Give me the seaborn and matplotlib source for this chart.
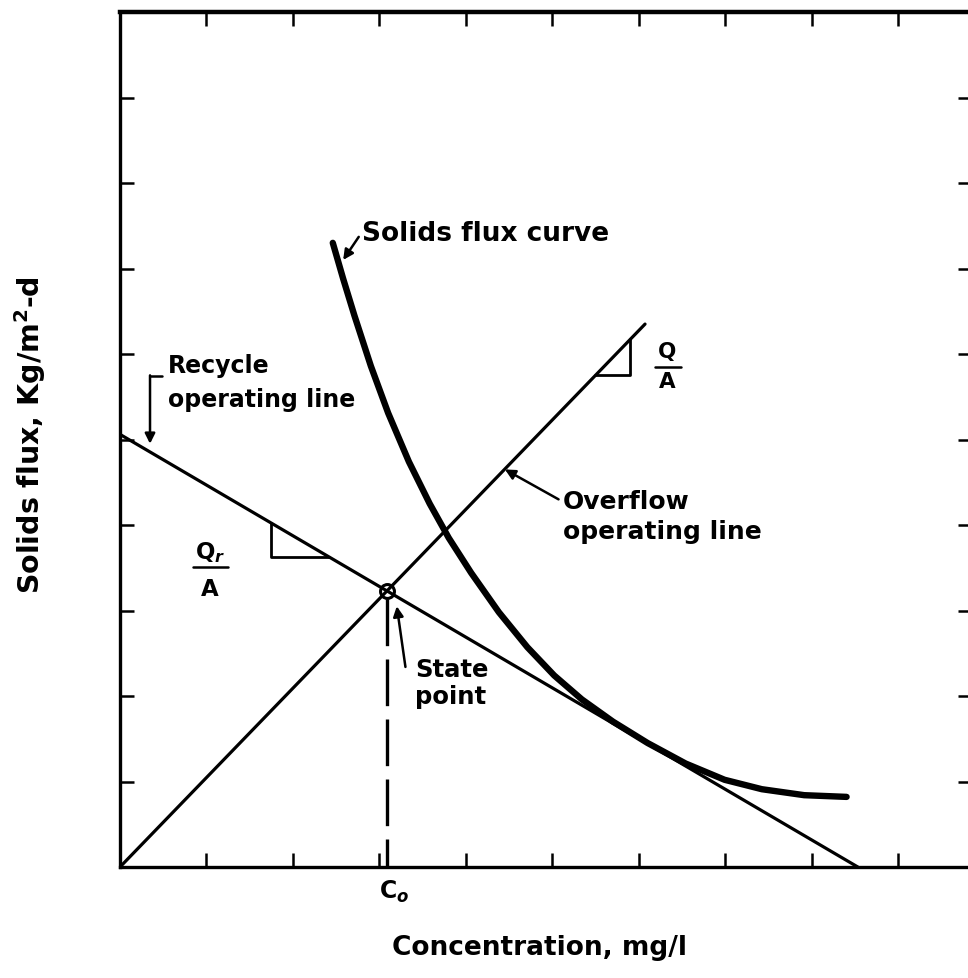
import numpy as np
import pandas as pd
import matplotlib
matplotlib.use("Agg")
import matplotlib.pyplot as plt
import seaborn as sns

# ---------------- data ----------------
flux_conc = [2.46, 2.58, 2.71, 2.90, 3.10, 3.34, 3.58, 3.80, 4.06, 4.38,
             4.71, 5.02, 5.34, 5.70, 6.10, 6.54, 6.99, 7.42, 7.91, 8.40]
flux_vals = [7.30, 6.88, 6.45, 5.86, 5.31, 4.74, 4.25, 3.85, 3.44, 2.98,
             2.57, 2.24, 1.96, 1.70, 1.45, 1.21, 1.02, 0.91, 0.84, 0.82]

overflow_conc = [0.0, 6.07]
overflow_vals = [0.0, 6.35]

recycle_conc = [0.0, 8.53]
recycle_vals = [5.06, 0.0]

tick_positions = [1, 2, 3, 4, 5, 6, 7, 8, 9]

# ---------------- style ----------------
sns.set_theme(style="ticks")
plt.rcParams["font.family"] = ["DejaVu Sans"]
plt.rcParams["font.weight"] = "bold"
plt.rcParams["text.color"] = "black"
plt.rcParams["axes.labelcolor"] = "black"

fig = plt.figure(figsize=(9.68, 9.79), dpi=100)
W, H = 968, 979
left_px, right_px, top_px, bottom_px = 120, 972, 13, 868
ax = fig.add_axes([left_px / W, (H - bottom_px) / H,
                   (right_px - left_px) / W, (bottom_px - top_px) / H])
ax.set_xlim(0, 9.85)
ax.set_ylim(0, 10)

lw_line = 2.3
df_over = pd.DataFrame({"x": overflow_conc, "y": overflow_vals})
df_rec = pd.DataFrame({"x": recycle_conc, "y": recycle_vals})
df_flux = pd.DataFrame({"x": flux_conc, "y": flux_vals})
sns.lineplot(data=df_over, x="x", y="y", ax=ax, color="black", lw=lw_line,
             sort=False, estimator=None)
sns.lineplot(data=df_rec, x="x", y="y", ax=ax, color="black", lw=lw_line,
             sort=False, estimator=None)
sns.lineplot(data=df_flux, x="x", y="y", ax=ax, color="black", lw=4.6,
             sort=False, estimator=None, solid_capstyle="round")
ax.lines[-1].set_solid_joinstyle("round")

# state point = intersection of the two operating lines
s_over = overflow_vals[1] / overflow_conc[1]
s_rec = (recycle_vals[1] - recycle_vals[0]) / (recycle_conc[1] - recycle_conc[0])
c0 = recycle_vals[0] / (s_over - s_rec)
y0 = s_over * c0

ax.plot([c0, c0], [y0 - 0.09, 0], color="black", lw=2.4, ls=(0, (14, 4)))
ax.plot([c0], [y0], marker="o", ms=10, mfc="none", mec="black", mew=2.2)

# slope triangles
xv = 1.746
ax.plot([xv, xv, (recycle_vals[0] - 3.63) / -s_rec],
        [recycle_vals[0] + s_rec * xv, 3.63, 3.63], color="black", lw=2.0)
xq = 5.90
ax.plot([5.75 / s_over, xq, xq], [5.75, 5.75, s_over * xq], color="black", lw=2.0)

bold = dict(fontweight="bold", color="black")
# fractions
ax.text(1.04, 3.69, r"Q$_r$", ha="center", va="center", fontsize=16.5, **bold)
ax.plot([0.84, 1.25], [3.51, 3.51], color="black", lw=1.8)
ax.text(1.04, 3.26, "A", ha="center", va="center", fontsize=16.5, **bold)

ax.text(6.33, 6.03, "Q", ha="center", va="center", fontsize=15.5, **bold)
ax.plot([6.18, 6.49], [5.85, 5.85], color="black", lw=1.8)
ax.text(6.33, 5.68, "A", ha="center", va="center", fontsize=15.5, **bold)

# annotations
arrow = dict(arrowstyle="-|>", color="black", lw=1.8, mutation_scale=15,
             shrinkA=0, shrinkB=0)
ax.text(2.80, 7.42, "Solids flux curve", ha="left", va="center", fontsize=19, **bold)
ax.annotate("", xy=(2.58, 7.10), xytext=(2.76, 7.37), arrowprops=arrow)

ax.text(0.555, 5.87, "Recycle", ha="left", va="center", fontsize=17, **bold)
ax.text(0.555, 5.47, "operating line", ha="left", va="center", fontsize=17, **bold)
ax.plot([0.48, 0.347], [5.74, 5.74], color="black", lw=1.8)
ax.annotate("", xy=(0.347, 4.95), xytext=(0.347, 5.75), arrowprops=arrow)

ax.text(5.12, 4.28, "Overflow", ha="left", va="center", fontsize=18, **bold)
ax.text(5.12, 3.93, "operating line", ha="left", va="center", fontsize=18, **bold)
ax.annotate("", xy=(4.45, 4.65), xytext=(5.07, 4.30), arrowprops=arrow)

ax.text(3.41, 2.32, "State", ha="left", va="center", fontsize=17.5, **bold)
ax.text(3.41, 2.00, "point", ha="left", va="center", fontsize=17.5, **bold)
ax.annotate("", xy=(3.20, 3.05), xytext=(3.30, 2.34), arrowprops=arrow)

ax.text(c0 + 0.08, -0.28, r"C$_o$", ha="center", va="center", fontsize=17,
        clip_on=False, **bold)

# axes / ticks
ax.set_xticks(tick_positions)
ax.set_yticks(tick_positions)
ax.set_xticklabels([])
ax.set_yticklabels([])
ax.tick_params(direction="in", length=10, width=1.8, top=True, right=True,
               colors="black")
for sp in ax.spines.values():
    sp.set_linewidth(2.4)
    sp.set_color("black")
ax.spines["top"].set_linewidth(3.2)

ax.set_xlabel("Concentration, mg/l", fontsize=19, fontweight="bold")
ax.xaxis.set_label_coords((540 - left_px) / (right_px - left_px),
                          (bottom_px - 948) / (bottom_px - top_px))
ax.xaxis.label.set_va("center")
ax.set_ylabel(r"Solids flux, Kg/m$^2$-d", fontsize=20.5, fontweight="bold")
ax.yaxis.set_label_coords((30 - left_px) / (right_px - left_px),
                          (bottom_px - 435) / (bottom_px - top_px))
ax.yaxis.label.set_va("center")

fig.savefig("out.png", dpi=100)
